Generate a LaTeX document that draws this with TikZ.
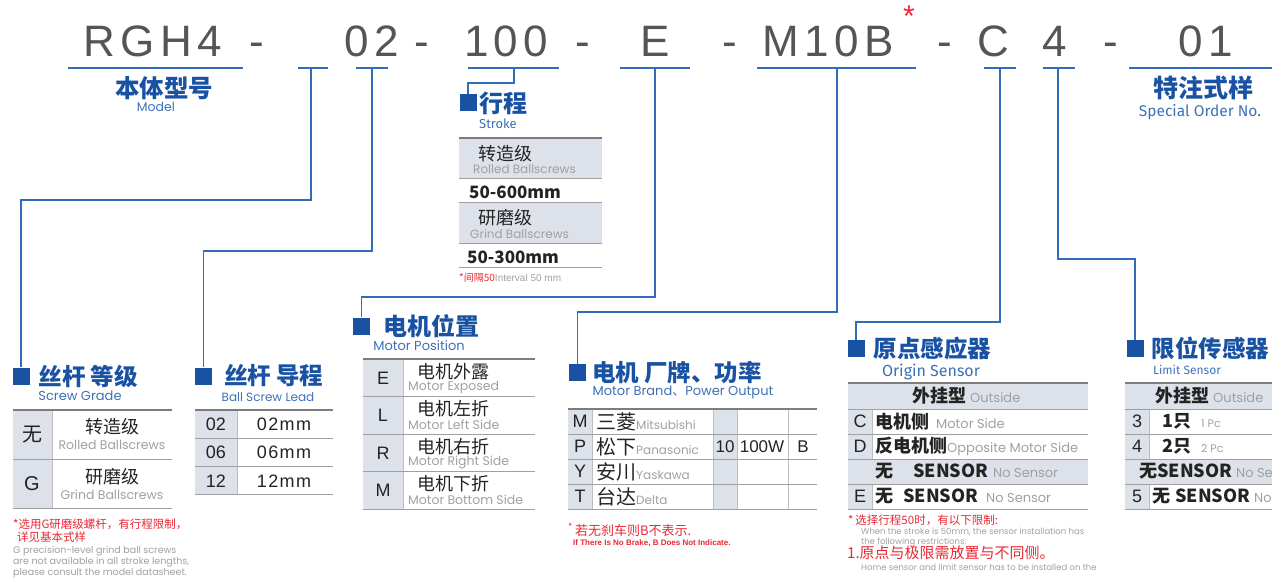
\documentclass[tikz,border=0pt]{standalone}
\usepackage{fontspec}
\setmainfont{Liberation Sans}
\newfontfamily\cjk{Noto Sans CJK SC}
\newfontfamily\geo{Poppins}
\newfontfamily\fira{Fira Sans}
\usetikzlibrary{positioning}

\definecolor{headblue}{RGB}{25,82,163}
\definecolor{lineblue}{RGB}{52,106,186}
\definecolor{subblue}{RGB}{62,112,182}
\definecolor{cellgray}{RGB}{221,225,233}
\definecolor{rulegray}{RGB}{160,160,160}
\definecolor{topgray}{RGB}{125,125,125}
\definecolor{codegray}{RGB}{85,85,85}
\definecolor{textdark}{RGB}{35,35,35}
\definecolor{lightgray}{RGB}{160,160,160}
\definecolor{notered}{RGB}{232,40,52}

\newcommand{\fs}[1]{\fontsize{#1}{#1}\selectfont}

\tikzset{
  code/.style={font=\fs{44}\addfontfeature{LetterSpace=12}, text=codegray, inner sep=0pt, anchor=base},
  starmark/.style={font=\fs{30}, text=notered, inner sep=0pt},
  uline/.style={draw=lineblue, line width=1.5pt},
  conn/.style={draw=lineblue, line width=1.3pt},
  headsq/.style={fill=headblue, minimum size=17pt, inner sep=0pt},
  headtxt/.style={font=\cjk\bfseries\fs{23.5}, text=headblue, inner sep=0pt, anchor=west},
  subtxt/.style={font=\geo\fs{12.5}, text=subblue, inner sep=0pt},
  cjktxt/.style={font=\cjk\fs{18}, text=textdark, inner sep=0pt},
  entxt/.style={font=\geo\fs{12}, text=lightgray, inner sep=0pt},
  keytxt/.style={font=\fs{18}, text=textdark, inner sep=0pt},
  boldtxt/.style={font=\cjk\bfseries\fs{17}, text=textdark, inner sep=0pt, anchor=west},
  rowtxt/.style={font=\cjk\fs{18}, text=textdark, inner sep=0pt, anchor=west},
  graycell/.style={fill=cellgray},
  rowrule/.style={draw=rulegray, line width=1pt},
  vrule/.style={draw=rulegray!70, line width=0.7pt},
  toprule/.style={draw=topgray, line width=1.8pt},
  rednote/.style={font=\cjk\fs{11.5}, text=notered, inner sep=0pt, anchor=west},
  graynote/.style={font=\geo\fs{9.5}, text=lightgray, inner sep=0pt, anchor=west},
}

\begin{document}
\begin{tikzpicture}[x=1pt, y=-1pt]
\useasboundingbox (0,0) rectangle (1272,580);

\foreach \t/\x [count=\i] in {RGH4/153, -/257, 02/372, -/422, 100/506, -/583, E/655, -/730, M10B/828, -/945, C/993, 4/1055, -/1111, 01/1206}
  \node[code] (code\i) at (\x,57) {\t};
\node[starmark] (mark) at (909,16) {*};

\foreach \n/\a/\b/\m in {model/68/243/156, grade/298/328/311, lead/356/388/372, stroke/468/559/514, pos/620/690/655, brand/757/916/837, orig/984/1016/1000, lim/1043/1075/1058, spec/1129/1272/1200} {
  \draw[uline] (\a,68) -- (\b,68);
  \coordinate (\n-m) at (\m,68);
}

% headings
\node[headtxt, anchor=center, font=\cjk\bfseries\fs{24.5}] (hdmodel) at (164,88) {本体型号};
\node[subtxt] (sbmodel) at (156,107) {Model};
\node[headtxt, anchor=center, font=\cjk\bfseries\fs{25}] (hdspec) at (1203,88) {特注式样};
\node[subtxt, font=\fira\fs{15.5}] (sbspec) at (1200,112) {Special Order No.};

\node[headsq] (sqstroke) at (468,103) {};
\node[headtxt, font=\cjk\bfseries\fs{24}, right=3pt of sqstroke] (hdstroke) {行程};
\node[subtxt, font=\fira\fs{13}] (sbstroke) at (498,124) {Stroke};

\node[headsq] (sqgrade) at (21,376) {};
\node[headtxt, right=9pt of sqgrade] (hdgrade) {丝杆\hspace{5pt}等级};
\node[subtxt, font=\geo\fs{13}] (sbgrade) at (80,396) {Screw Grade};

\node[headsq] (sqlead) at (203.5,376) {};
\node[headtxt, right=12pt of sqlead] (hdlead) {丝杆\hspace{5pt}导程};
\node[subtxt, font=\geo\fs{12}] (sblead) at (268,397) {Ball Screw Lead};

\node[headsq] (sqpos) at (361.5,326) {};
\node[headtxt, font=\cjk\bfseries\fs{24}, right=13pt of sqpos] (hdpos) {电机位置};
\node[subtxt, font=\geo\fs{13}] (sbpos) at (419,346) {Motor Position};

\node[headsq] (sqbrand) at (577.5,372.5) {};
\node[headtxt, right=6pt of sqbrand] (hdbrand) {电机\hspace{5pt}厂牌、功率};
\node[subtxt, font=\geo\fs{13}] (sbbrand) at (683,392) {Motor Brand{\cjk 、}Power Output};

\node[headsq] (sqorig) at (856,348.5) {};
\node[headtxt, right=9pt of sqorig] (hdorig) {原点感应器};
\node[subtxt, font=\fira\fs{16}] (sborig) at (931,372) {Origin Sensor};

\node[headsq] (sqlim) at (1135,348.5) {};
\node[headtxt, right=8pt of sqlim] (hdlim) {限位传感器};
\node[subtxt, font=\fira\fs{12}] (sblim) at (1187,370) {Limit Sensor};

% connectors
\draw[conn] (stroke-m) -- ++(0,15) -| (sqstroke.north);
\draw[conn] (grade-m) -- ++(0,132) -| (sqgrade.north);
\draw[conn] (lead-m) -- ++(0,183) -| (sqlead.north);
\draw[conn] (pos-m) -- ++(0,229) -| (sqpos.north);
\draw[conn] (brand-m) -- ++(0,244) -| (sqbrand.north);
\draw[conn] (orig-m) -- ++(0,254) -| (sqorig.north);
\draw[conn] (lim-m) -- ++(0,191) -| (sqlim.north);

% stroke table
\fill[graycell] (459,138) rectangle (602,179);
\fill[graycell] (459,203) rectangle (602,244);
\foreach \y in {179,203,244,268} \draw[rowrule] (459,\y) -- (602,\y);
\draw[toprule] (459,138) -- (602,138);
\node[cjktxt, anchor=west] (st1) at (478,154) {转造级};
\node[entxt, anchor=west] (st2) at (473,169) {Rolled Ballscrews};
\node[boldtxt] (st3) at (469,192) {50-600mm};
\node[cjktxt, anchor=west] (st4) at (478,218) {研磨级};
\node[entxt, anchor=west] (st5) at (470,234) {Grind Ballscrews};
\node[boldtxt] (st6) at (467,257) {50-300mm};
\node[graynote, font=\fs{10}] (stnote) at (459,278) {{\cjk\color{notered}*间隔50}Interval 50 mm};

% screw grade table
\fill[graycell] (13,410) rectangle (52,508);
\draw[vrule] (52,410) -- (52,508);
\foreach \y in {459,508} \draw[rowrule] (13,\y) -- (172,\y);
\draw[toprule] (13,410) -- (172,410);
\node[cjktxt, font=\cjk\fs{20}] (gk1) at (32,435) {无};
\node[keytxt, font=\fs{20}] (gk2) at (32,484) {G};
\node[cjktxt] (gc1) at (112,427) {转造级};
\node[entxt, font=\geo\fs{12.5}] (ge1) at (112,445) {Rolled Ballscrews};
\node[cjktxt] (gc2) at (112,477) {研磨级};
\node[entxt, font=\geo\fs{12.5}] (ge2) at (112,495) {Grind Ballscrews};
\node[rednote] (gnote1) at (13,524) {*选用G研磨级螺杆，有行程限制，};
\node[rednote] (gnote2) at (17,537) {详见基本式样};
\node[graynote] (gnote3) at (13,551) {G precision-level grind ball screws};
\node[graynote] (gnote4) at (13,562) {are not available in all stroke lengths,};
\node[graynote] (gnote5) at (13,573) {please consult the model datasheet.};

% ball screw lead table
\fill[graycell] (195,410) rectangle (237,495);
\draw[vrule] (237,410) -- (237,495);
\foreach \k/\v [count=\i] in {02/02mm, 06/06mm, 12/12mm} {
  \node[keytxt] (lk\i) at (216,396+28.3*\i) {\k};
  \node[keytxt, font=\fs{18}\addfontfeature{LetterSpace=8}] (lv\i) at (284,396+28.3*\i) {\v};
  \draw[rowrule] (195,410+28.3*\i) -- (333,410+28.3*\i);
}
\draw[toprule] (195,410) -- (333,410);

% motor position table
\fill[graycell] (363,359) rectangle (403,509);
\draw[vrule] (403,359) -- (403,509);
\foreach \k/\c/\e [count=\i] in {E/电机外露/Motor Exposed, L/电机左折/Motor Left Side, R/电机右折/Motor Right Side, M/电机下折/Motor Bottom Side} {
  \node[keytxt] (pk\i) at (383,340.5+37.5*\i) {\k};
  \node[cjktxt, anchor=west] (pc\i) at (417,334+37.5*\i) {\c};
  \node[entxt, anchor=west, font=\geo\fs{12.5}] (pe\i) at (408,349.5+37.5*\i) {\e};
  \draw[rowrule] (363,359+37.5*\i) -- (535,359+37.5*\i);
}
\draw[toprule] (363,359) -- (535,359);

% motor brand table
\fill[graycell] (568,409) rectangle (592,509);
\fill[graycell] (713,409) rectangle (737,509);
\foreach \x in {592,713,737,788} \draw[vrule] (\x,409) -- (\x,509);
\foreach \k/\c/\e [count=\i] in {M/三菱/Mitsubishi, P/松下/Panasonic, Y/安川/Yaskawa, T/台达/Delta} {
  \node[keytxt] (bk\i) at (580,396.5+25*\i) {\k};
  \node[rowtxt, font=\cjk\fs{20}] (bc\i) at (596,396.5+25*\i) {\c{\geo\fs{12}\color{lightgray}\e}};
  \draw[rowrule] (568,409+25*\i) -- (817,409+25*\i);
}
\draw[toprule] (568,409) -- (817,409);
\node[keytxt, font=\fs{17}] (bw1) at (725,446.5) {10};
\node[keytxt, font=\fs{17}] (bw2) at (762,446.5) {100W};
\node[keytxt, font=\fs{17}] (bw3) at (803,446.5) {B};
\node[rednote, font=\cjk\fs{13}] (bnote1) at (568,530) {\textsuperscript{*}\,若无刹车则B不表示.};
\node[rednote, font=\bfseries\fs{8}] (bnote2) at (573,543) {If There Is No Brake, B Does Not Indicate.};

% origin sensor table
\fill[graycell] (848,383) rectangle (872,509);
\fill[graycell] (848,383) rectangle (1088,409);
\fill[graycell] (848,459) rectangle (1088,484);
\draw[vrule] (872,409) -- (872,459) (872,484) -- (872,509);
\foreach \y in {409,434,459,484,509} \draw[rowrule] (848,\y) -- (1088,\y);
\draw[toprule] (848,383) -- (1088,383);
\node[rowtxt] (or1) at (912,396) {{\bfseries 外挂型}\hspace{4pt}{\geo\fs{13}\color{lightgray}Outside}};
\node[keytxt] (ok2) at (860,421.5) {C};
\node[rowtxt] (or2) at (875,421.5) {{\bfseries 电机侧}\hspace{7pt}{\geo\fs{13}\color{lightgray}Motor Side}};
\node[keytxt] (ok3) at (860,446.5) {D};
\node[rowtxt] (or3) at (875,446.5) {{\bfseries 反电机侧}{\geo\fs{13}\color{lightgray}Opposite Motor Side}};
\node[rowtxt] (or4) at (875,471.5) {{\bfseries 无}\hspace{20pt}{\bfseries SENSOR}\hspace{5pt}{\geo\fs{13}\color{lightgray}No Sensor}};
\node[keytxt] (ok5) at (860,496.5) {E};
\node[rowtxt] (or5) at (875,496.5) {{\bfseries 无}\hspace{10pt}{\bfseries SENSOR}\hspace{8pt}{\geo\fs{13}\color{lightgray}No Sensor}};
\node[rednote] (onote1) at (848,520) {*\,选择行程50时，有以下限制:};
\node[graynote, font=\geo\fs{8.5}] (onote2) at (861,532) {When the stroke is 50mm, the sensor installation has};
\node[graynote, font=\geo\fs{8.5}] (onote3) at (861,542) {the following restrictions:};
\node[rednote, font=\cjk\fs{15}] (onote4) at (847,553) {1.原点与极限需放置与不同侧。};
\node[graynote, font=\geo\fs{8.5}] (onote5) at (861,567) {Home sensor and limit sensor has to be installed on the};

% limit sensor table
\fill[graycell] (1125,383) rectangle (1149,509);
\fill[graycell] (1125,383) rectangle (1280,409);
\fill[graycell] (1125,459) rectangle (1280,484);
\draw[vrule] (1149,409) -- (1149,459) (1149,484) -- (1149,509);
\foreach \y in {409,434,459,484,509} \draw[rowrule] (1125,\y) -- (1280,\y);
\draw[toprule] (1125,383) -- (1280,383);
\node[rowtxt] (lr1) at (1155,396) {{\bfseries 外挂型}\hspace{4pt}{\geo\fs{13}\color{lightgray}Outside}};
\node[keytxt] (lk3) at (1137,421.5) {3};
\node[rowtxt] (lr2) at (1162,421.5) {{\bfseries 1只}\hspace{10pt}{\geo\fs{11}\color{lightgray}1 Pc}};
\node[keytxt] (lk4) at (1137,446.5) {4};
\node[rowtxt] (lr3) at (1162,446.5) {{\bfseries 2只}\hspace{10pt}{\geo\fs{11}\color{lightgray}2 Pc}};
\node[rowtxt] (lr4) at (1139,471.5) {{\bfseries 无SENSOR}\hspace{4pt}{\geo\fs{13}\color{lightgray}No Sensor}};
\node[keytxt] (lk5) at (1137,496.5) {5};
\node[rowtxt] (lr5) at (1152,496.5) {{\bfseries 无}\hspace{5pt}{\bfseries SENSOR}\hspace{4pt}{\geo\fs{13}\color{lightgray}No Sensor}};
\end{tikzpicture}
\end{document}
